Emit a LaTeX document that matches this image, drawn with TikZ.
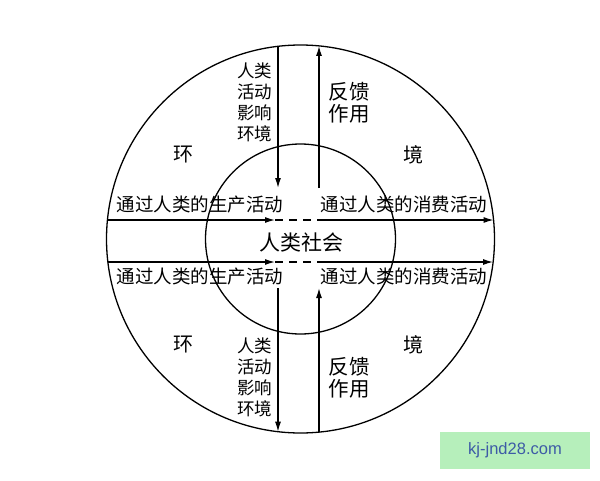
\documentclass[tikz,border=0pt]{standalone}
\usepackage{fontspec}
\newfontfamily\cjk{Noto Sans CJK SC}
\newfontfamily\wm{Liberation Sans}
\usetikzlibrary{arrows.meta}
\definecolor{wmgreen}{HTML}{B6EFBB}
\definecolor{wmblue}{HTML}{3D5BA6}
\begin{document}
\begin{tikzpicture}[x=1pt,y=-1pt,
  ln/.style={line width=1.3pt},
  arr/.style={ln,-{Latex[length=10pt,width=6pt]}},
  dsh/.style={ln,dash pattern=on 8pt off 6pt},
  ring/.style={circle,draw,line width=1.3pt,inner sep=0pt},
  lab/.style={font=\cjk\fontsize{18.5}{21}\selectfont,inner sep=0pt},
  stk/.style={font=\cjk\fontsize{17.5}{21}\selectfont,align=center,inner sep=0pt},
  fbk/.style={font=\cjk\fontsize{20.5}{22}\selectfont,align=center,inner sep=0pt},
  big/.style={font=\cjk\fontsize{20}{22}\selectfont,inner sep=0pt}]
\useasboundingbox (0,0) rectangle (600,480);
\fill[white] (0,0) rectangle (600,480);
% circles
\node[ring,minimum size=388pt] (env) at (300.5,239) {};
\node[ring,minimum size=190pt] (soc) at (300.5,239) {};
% coordinates on circles
\coordinate (hl1) at (107.4,220);
\coordinate (hm1a) at (275,220);
\coordinate (hm1b) at (320,220);
\coordinate (hr1) at (493.6,220);
\coordinate (hl2) at (107.9,262);
\coordinate (hm2a) at (275,262);
\coordinate (hm2b) at (320,262);
\coordinate (hr2) at (493.1,262);
\coordinate (vlt) at (278,46.3);
\coordinate (vlm1) at (278,188);
\coordinate (vrt) at (319,45.9);
\coordinate (vrm1) at (319,188);
\coordinate (vlm2) at (278,288);
\coordinate (vlb) at (278,431.7);
\coordinate (vrm2) at (319,288);
\coordinate (vrb) at (319,432.1);
% horizontal arrows
\draw[arr] (hl1) -- (hm1a);
\draw[dsh] (hm1a) -- (hm1b);
\draw[arr] (hm1b) -- (hr1);
\draw[arr] (hl2) -- (hm2a);
\draw[dsh] (hm2a) -- (hm2b);
\draw[arr] (hm2b) -- (hr2);
% vertical arrows
\draw[arr] (vlt) -- (vlm1);
\draw[arr] (vrm1) -- (vrt);
\draw[arr] (vlm2) -- (vlb);
\draw[arr] (vrb) -- (vrm2);
% labels
\node[lab] (p1) at (200,204) {通过人类的生产活动};
\node[lab] (c1) at (404,204) {通过人类的消费活动};
\node[lab] (p2) at (200,276) {通过人类的生产活动};
\node[lab] (c2) at (404,276) {通过人类的消费活动};
\node[font=\cjk\fontsize{21}{22}\selectfont,inner sep=0pt] (rs) at (301,242) {人类社会};
\node[big] (h1) at (183,155) {环};
\node[big] (j1) at (413,155) {境};
\node[big] (h2) at (183,345) {环};
\node[big] (j2) at (413,345) {境};
\node[stk] (s1) at (254.5,102) {人类\\活动\\影响\\环境};
\node[stk] (s2) at (254.5,377.5) {人类\\活动\\影响\\环境};
\node[fbk] (f1) at (349,102.5) {反馈\\作用};
\node[fbk] (f2) at (349,378) {反馈\\作用};
% watermark
\node[fill=wmgreen,minimum width=150pt,minimum height=37pt,inner sep=0pt,
  text=wmblue,font=\wm\fontsize{16.5}{18}\selectfont] (wmk) at (515,450.5) {kj-jnd28.com};
\end{tikzpicture}
\end{document}
